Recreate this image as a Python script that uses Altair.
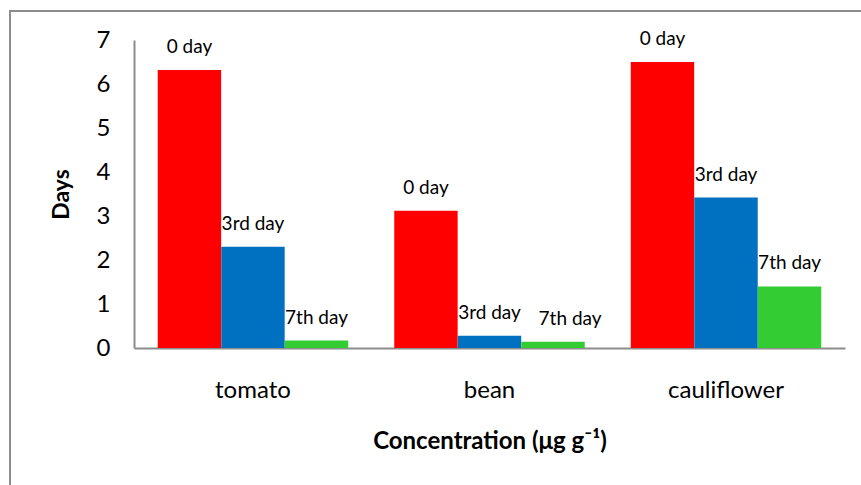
import altair as alt
import pandas as pd

# Crops on the x axis and the sampling days shown for each
crops = ["tomato", "bean", "cauliflower"]
days = ["0 day", "3rd day", "7th day"]

# Values per crop, in the order of `days`
tomato = [6.32, 2.30, 0.17]
bean = [3.12, 0.28, 0.14]
cauliflower = [6.50, 3.42, 1.40]

day_colors = ["#FF0000", "#0070C0", "#33CC33"]
y_ticks = [0, 1, 2, 3, 4, 5, 6, 7]

rows = []
for crop, vals in zip(crops, [tomato, bean, cauliflower]):
    for d, v in zip(days, vals):
        rows.append({"crop": crop, "day": d, "value": v})
df = pd.DataFrame(rows)

FONT = "Lato"
AXIS_GRAY = "#8C8C8C"

x_enc = alt.X(
    "crop:N",
    sort=crops,
    scale=alt.Scale(paddingInner=0.194, paddingOuter=0.1),
    axis=alt.Axis(
        title="Concentration (μg g⁻¹)",
        labelAngle=0,
        ticks=False,
        domainColor=AXIS_GRAY,
        domainWidth=2,
        labelFont=FONT,
        labelFontSize=24,
        labelColor="black",
        labelPadding=30,
        titleFont=FONT,
        titleFontSize=24,
        titleFontWeight="bold",
        titleColor="black",
        titlePadding=27,
    ),
)
xo_enc = alt.XOffset(
    "day:N", sort=days, scale=alt.Scale(paddingInner=0, paddingOuter=0)
)
y_enc = alt.Y(
    "value:Q",
    scale=alt.Scale(domain=[0, 7], nice=False),
    axis=alt.Axis(
        title="Days",
        values=y_ticks,
        grid=False,
        ticks=False,
        domainColor=AXIS_GRAY,
        domainWidth=2,
        labelFont=FONT,
        labelFontSize=24,
        labelColor="black",
        labelPadding=24,
        titleFont=FONT,
        titleFontSize=23,
        titleFontWeight="bold",
        titleColor="black",
        titlePadding=23,
    ),
)
color_enc = alt.Color(
    "day:N",
    sort=days,
    scale=alt.Scale(domain=days, range=day_colors),
    legend=None,
)

base = alt.Chart(df)

bars = base.mark_bar(size=63.4).encode(
    x=x_enc, xOffset=xo_enc, y=y_enc, color=color_enc
)

label_enc = dict(
    x=alt.X("crop:N", sort=crops),
    xOffset=alt.XOffset("day:N", sort=days),
    y="value:Q",
    text="day:N",
)
crowded = "datum.crop == 'bean' && datum.day == '7th day'"

# Day labels above each bar; the one that would collide with its
# neighbour is nudged to the right
labels = (
    base.mark_text(font=FONT, fontSize=19, color="black", baseline="middle", dy=-23)
    .encode(**label_enc)
    .transform_filter("!(" + crowded + ")")
)
nudged = (
    base.mark_text(
        font=FONT, fontSize=19, color="black", baseline="middle", dy=-23, dx=17
    )
    .encode(**label_enc)
    .transform_filter(crowded)
)

# Outer frame around the chart
frame = alt.Chart(pd.DataFrame({"k": [0]})).mark_rect(
    filled=False, stroke=AXIS_GRAY, strokeWidth=2
).encode(
    x=alt.value(-124), x2=alt.value(760), y=alt.value(-29), y2=alt.value(480)
)

chart = (
    alt.layer(frame, bars, labels, nudged)
    .properties(
        width=711,
        height=308,
        autosize=alt.AutoSizeParams(type="none"),
        padding={"left": 134, "top": 40, "right": 16, "bottom": 137},
        background="white",
    )
    .configure_view(stroke=None)
)

chart.save("out.html", embed_options={"renderer": "svg", "actions": False})
